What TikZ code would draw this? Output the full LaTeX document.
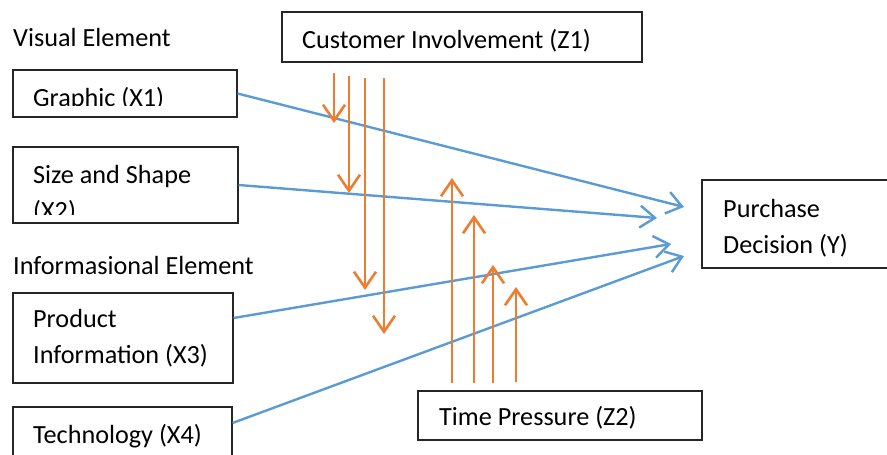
\documentclass[tikz,border=0pt]{standalone}
\usepackage{fontspec}
\setmainfont{Carlito}
\usetikzlibrary{arrows.meta}
\definecolor{lineblue}{HTML}{5B9BD5}
\definecolor{lineorange}{HTML}{ED7D31}
\tikzset{x=1pt, y=-1pt,
    every node/.style={font=\fontsize{26.2}{35.5}\selectfont},
    box/.style={draw=black!85, line width=1.1pt, inner sep=0pt},
    lbl/.style={anchor=base west, inner sep=0pt, align=left},
    effect/.style={draw=lineblue, line width=2.4pt,
        -{Straight Barb[length=15pt, width=22pt, line width=2.4pt]}},
    moder/.style={draw=lineorange, line width=2.6pt,
        -{Straight Barb[length=16pt, width=22pt, line width=2.6pt]}},
    }
\begin{document}
\begin{tikzpicture}
\useasboundingbox (0,0) rectangle (887,455);
% boxes
\node[box, minimum width=224pt, minimum height=47pt] (x1) at (125,93.5) {};
\node[box, minimum width=225pt, minimum height=76pt] (x2) at (125.5,185) {};
\node[box, minimum width=220pt, minimum height=90pt] (x3) at (123,338) {};
\node[box, minimum width=219pt, minimum height=63pt] (x4) at (122.5,438.5) {};
\node[box, minimum width=360pt, minimum height=50pt] (z1) at (462,37) {};
\node[box, minimum width=284pt, minimum height=49pt] (z2) at (560,415.5) {};
\node[box, minimum width=190pt, minimum height=88pt] (y) at (797,224) {};
% texts (base = last line)
\node[lbl] (visual) at (13,46) {Visual Element};
\node[lbl] (inform) at (13,274) {Informasional Element};
\node[lbl] (z1txt) at (302,48) {Customer Involvement (Z1)};
\node[lbl] (z2txt) at (439,425) {Time Pressure (Z2)};
\node[lbl] (ytxt) at (723,253) {Purchase\\Decision (Y)};
\begin{scope}
\clip (13,70) rectangle (237,105);
\node[lbl] (x1txt) at (33,106) {Graphic (X1)};
\end{scope}
\begin{scope}
\clip (13,147) rectangle (238,214);
\node[lbl] (x2txt) at (33,219) {Size and Shape\\(X2)};
\end{scope}
\node[lbl] (x3txt) at (33,363) {Product\\Information (X3)};
\node[lbl] (x4txt) at (33,443) {Technology (X4)};
% direct effects
\coordinate (x3out) at (x3.east |- 0,318);
\coordinate (x4out) at (x4.east |- 0,423);
\coordinate (y1) at (684,207);
\coordinate (y2) at (657,218);
\coordinate (y3) at (671,244);
\coordinate (y4) at (684,256);
\draw[effect] (x1.east) -- (y1);
\draw[effect] (x2.east) -- (y2);
\draw[effect] (x3out) -- (y3);
\draw[effect] (x4out) -- (y4);
% moderation Z1
\foreach \i/\xx/\ys/\ye in {1/334/73/123, 2/349/76/193, 3/365/78/290, 4/384/78/334}{
    \coordinate (za\i) at (\xx,\ys);
    \coordinate (zb\i) at (\xx,\ye);
    \draw[moder] (za\i) -- (zb\i);
}
% moderation Z2
\foreach \i/\xx/\ys/\ye in {1/452/383/178, 2/474/383/215, 3/493/383/265, 4/516/382/287}{
    \coordinate (wa\i) at (\xx,\ys);
    \coordinate (wb\i) at (\xx,\ye);
    \draw[moder] (wa\i) -- (wb\i);
}
\end{tikzpicture}
\end{document}
